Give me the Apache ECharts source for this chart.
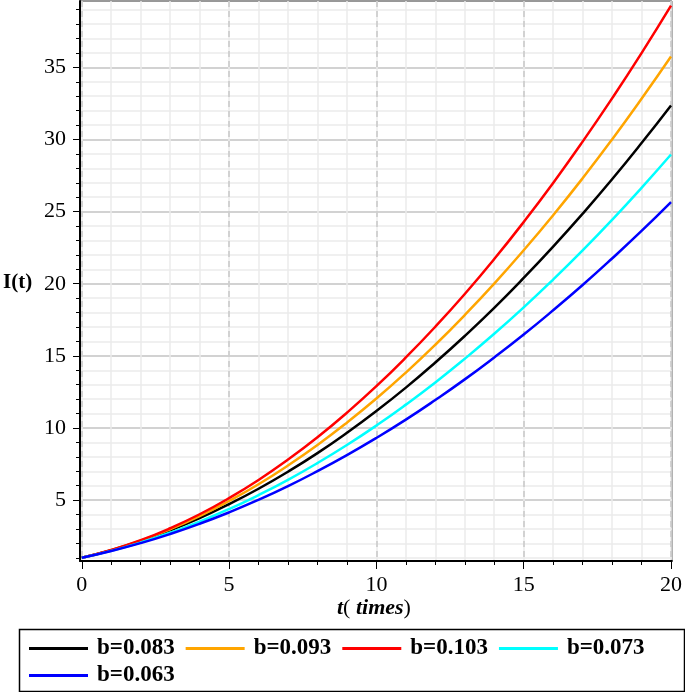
<!DOCTYPE html>
<html><head><meta charset="utf-8">
<script src="https://cdn.jsdelivr.net/npm/echarts@6/dist/echarts.min.js"></script>
<style>html,body{margin:0;padding:0;background:#fff}#c{width:685px;height:692px}</style>
</head><body><div id="c"></div>
<script>
// Data
const tValues = [0,1,2,3,4,5,6,7,8,9,10,11,12,13,14,15,16,17,18,19,20];
const seriesNames = ['b=0.083', 'b=0.093', 'b=0.103', 'b=0.073', 'b=0.063'];
const seriesColors = ['#000000', '#ffa500', '#ff0000', '#00ffff', '#0000ff'];
const I_b083 = [1,1.52,2.16,2.90,3.75,4.72,5.79,6.97,8.26,9.67,11.18,12.80,14.54,16.38,18.33,20.40,22.57,24.85,27.24,29.75,32.36];
const I_b093 = [1,1.53,2.19,2.98,3.89,4.94,6.10,7.40,8.82,10.37,12.04,13.84,15.77,17.83,20.01,22.32,24.75,27.31,30.00,32.82,35.75];
const I_b103 = [1,1.54,2.22,3.05,4.02,5.14,6.40,7.81,9.36,11.06,12.90,14.89,17.02,19.29,21.71,24.28,26.99,29.85,32.85,35.99,39.28];
const I_b073 = [1,1.48,2.06,2.74,3.51,4.38,5.35,6.41,7.57,8.82,10.17,11.62,13.16,14.80,16.53,18.36,20.29,22.31,24.43,26.65,28.96];
const I_b063 = [1,1.47,2.02,2.65,3.36,4.15,5.02,5.97,7.01,8.12,9.31,10.58,11.94,13.37,14.89,16.48,18.16,19.91,21.75,23.66,25.66];
const seriesValues = [I_b083, I_b093, I_b103, I_b073, I_b063];

const xMajorTicks = [0, 5, 10, 15, 20];
const xMinorTicks = [0,1,2,3,4,5,6,7,8,9,10,11,12,13,14,15,16,17,18,19,20];
const yMajorTicks = [5, 10, 15, 20, 25, 30, 35];
const yMinorTicks = [1,2,3,4,5,6,7,8,9,10,11,12,13,14,15,16,17,18,19,20,21,22,23,24,25,26,27,28,29,30,31,32,33,34,35,36,37,38,39];

const xMin = -0.06, xMax = 20.03, yMin = 0.78, yMax = 39.6;
const serif = 'Liberation Serif';

const chart = echarts.init(document.getElementById('c'), null, {renderer: 'canvas'});

const minorX = {
  type: 'value', min: xMin, max: xMax, position: 'bottom',
  axisLine: {show: true, onZero: false, lineStyle: {color: '#000', width: 2}},
  axisTick: {show: true, customValues: xMinorTicks, length: 4, lineStyle: {color: '#000', width: 1}},
  axisLabel: {show: false},
  splitLine: {show: true, lineStyle: {color: '#ebebeb', width: 1.5}}
};
const majorX = {
  type: 'value', min: xMin, max: xMax, position: 'bottom',
  axisLine: {show: false, onZero: false},
  axisTick: {show: true, customValues: xMajorTicks, length: 8, lineStyle: {color: '#000', width: 1}},
  axisLabel: {show: true, customValues: xMajorTicks, margin: 13, fontFamily: serif, fontSize: 22, color: '#000'},
  splitLine: {show: true, lineStyle: {color: '#c8c8c8', width: 1.5, type: [6, 4]}}
};
const minorY = {
  type: 'value', min: yMin, max: yMax, position: 'left',
  axisLine: {show: true, onZero: false, lineStyle: {color: '#000', width: 2}},
  axisTick: {show: true, customValues: yMinorTicks, length: 4, lineStyle: {color: '#000', width: 1}},
  axisLabel: {show: false},
  splitLine: {show: true, lineStyle: {color: '#ebebeb', width: 1.5}}
};
const majorY = {
  type: 'value', min: yMin, max: yMax, position: 'left',
  axisLine: {show: false, onZero: false},
  axisTick: {show: true, customValues: yMajorTicks, length: 7, lineStyle: {color: '#000', width: 1}},
  axisLabel: {show: true, customValues: yMajorTicks, margin: 14, fontFamily: serif, fontSize: 22, color: '#000'},
  splitLine: {show: true, lineStyle: {color: '#c8c8c8', width: 1.5}}
};

const series = seriesNames.map((name, k) => ({
  name: name,
  type: 'line',
  xAxisIndex: 1, yAxisIndex: 1,
  smooth: true,
  showSymbol: false,
  symbol: 'none',
  color: seriesColors[k],
  lineStyle: {width: 2.5, color: seriesColors[k]},
  data: tValues.map((t, i) => [t, seriesValues[k][i]]),
  z: 5
}));

const legendText = {fontFamily: serif, fontWeight: 'bold', fontSize: 23, color: '#000', padding: [0, 0, 0, 4]};

chart.setOption({
  animation: false,
  backgroundColor: '#fff',
  grid: {left: 80, right: 10, top: 1, bottom: 131, show: true, borderColor: '#333', borderWidth: 1, containLabel: false},
  xAxis: [minorX, majorX],
  yAxis: [minorY, majorY],
  legend: [
    {
      data: seriesNames.slice(0, 4),
      left: 29, top: 637, padding: 0,
      icon: 'rect', itemWidth: 59, itemHeight: 3, itemGap: 11,
      textStyle: legendText
    },
    {
      data: seriesNames.slice(4),
      left: 29, top: 664, padding: 0,
      icon: 'rect', itemWidth: 59, itemHeight: 3, itemGap: 11,
      textStyle: legendText
    }
  ],
  graphic: [
    {type: 'rect', left: 17, top: 627, shape: {width: 665, height: 62}, style: {fill: 'none', stroke: '#000', lineWidth: 1.5}, silent: true},
    {type: 'text', left: 3, top: 272, style: {text: 'I(t)', font: 'bold 21px "Liberation Serif"', fill: '#000'}},
    {type: 'text', left: 337, top: 597, style: {
      text: '{a|t}{b|(}{a| times}{b|)}',
      rich: {
        a: {fontFamily: serif, fontWeight: 'bold', fontStyle: 'italic', fontSize: 22, fill: '#000'},
        b: {fontFamily: serif, fontSize: 22, fill: '#000'}
      }
    }}
  ],
  series: series
});
</script>
</body></html>
